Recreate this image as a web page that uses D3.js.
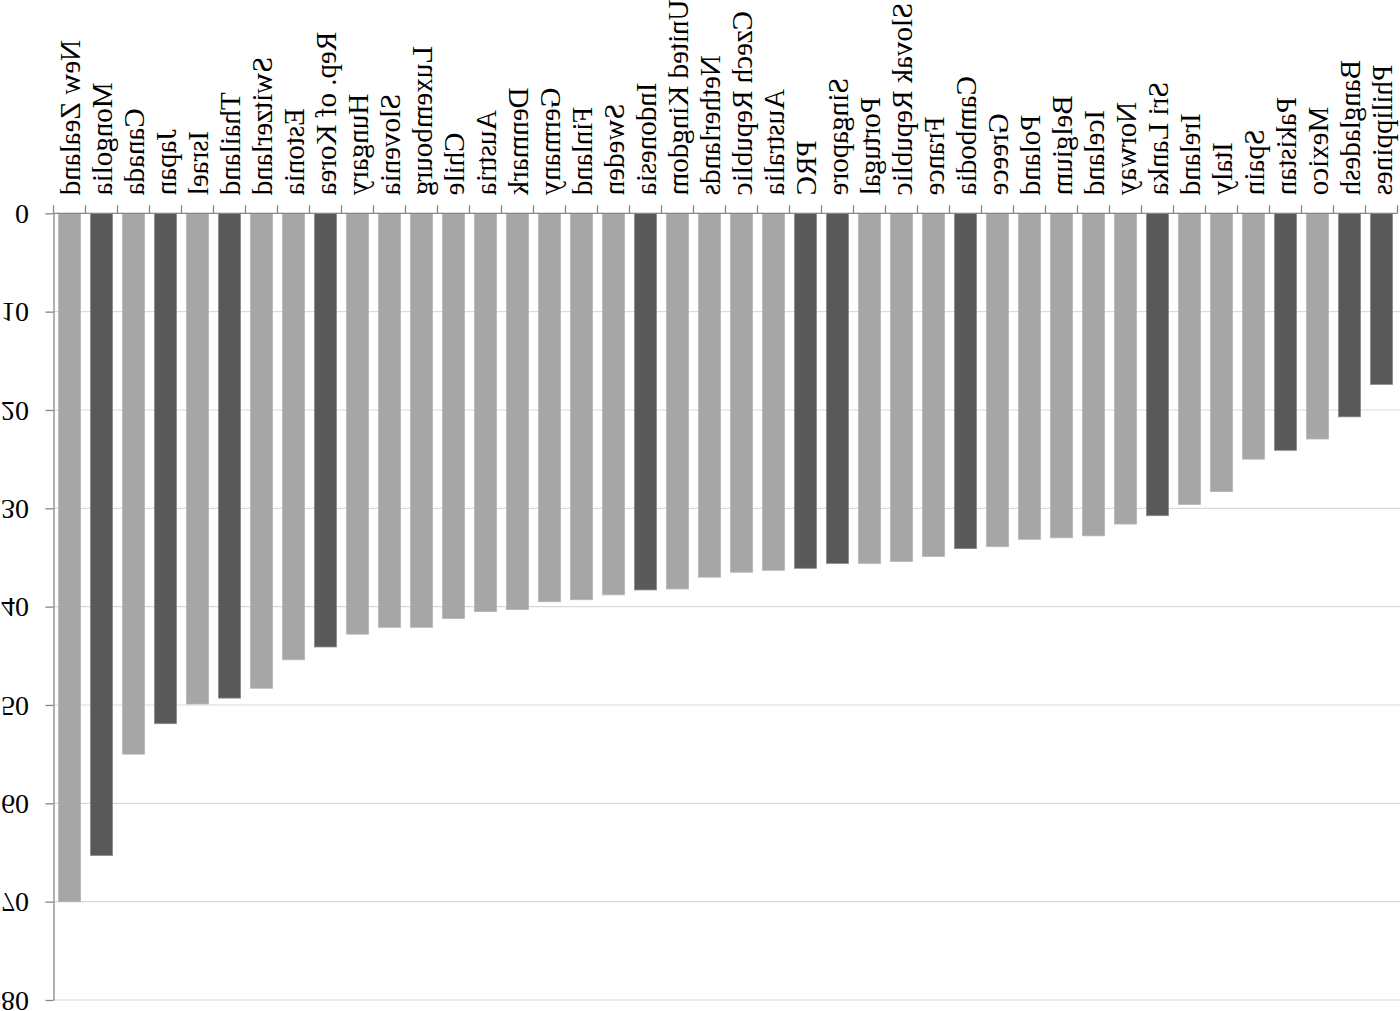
<!DOCTYPE html>
<html>
<head>
<meta charset="utf-8">
<script src="https://cdn.jsdelivr.net/npm/d3@7/dist/d3.min.js"></script>
<style>
  html, body { margin: 0; padding: 0; background: #fff; }
  svg { display: block; }
</style>
</head>
<body>
<svg id="chart" width="1400" height="1011"></svg>
<script>
// ---- data ----
const categories = ["New Zealand", "Mongolia", "Canada", "Japan", "Israel", "Thailand", "Switzerland", "Estonia", "Rep. of Korea", "Hungary", "Slovenia", "Luxembourg", "Chile", "Austria", "Denmark", "Germany", "Finland", "Sweden", "Indonesia", "United Kingdom", "Netherlands", "Czech Republic", "Australia", "PRC", "Singapore", "Portugal", "Slovak Republic", "France", "Cambodia", "Greece", "Poland", "Belgium", "Iceland", "Norway", "Sri Lanka", "Ireland", "Italy", "Spain", "Pakistan", "Mexico", "Bangladesh", "Philippines"];
const values = [70.0, 65.3, 55.0, 51.9, 49.9, 49.3, 48.3, 45.4, 44.1, 42.8, 42.1, 42.1, 41.2, 40.5, 40.3, 39.5, 39.3, 38.8, 38.3, 38.2, 37.0, 36.5, 36.3, 36.1, 35.6, 35.6, 35.4, 34.9, 34.1, 33.9, 33.15, 33.0, 32.8, 31.6, 30.75, 29.6, 28.3, 25.0, 24.1, 22.95, 20.7, 17.4];
const highlighted = ["Mongolia", "Japan", "Thailand", "Rep. of Korea", "Indonesia", "PRC", "Singapore", "Cambodia", "Sri Lanka", "Pakistan", "Bangladesh", "Philippines"];
const yTicks = [0, 10, 20, 30, 40, 50, 60, 70, 80];

// ---- layout / style ----
const FONT = "'Liberation Serif', 'Times New Roman', serif";
const plotLeft = 53.5, plotRight = 1397.5, plotTop = 213.3, plotBottom = 1000;
const colLight = "#a6a6a6", colDark = "#595959";

const svg = d3.select("#chart");

const x = d3.scaleBand().domain(categories).range([plotLeft, plotRight])
  .paddingInner(0.31).paddingOuter(0.155);
// the picture is drawn upside down: 0 at top, 80 at bottom
const y = d3.scaleLinear().domain([0, 80]).range([plotTop, plotBottom]);

// gridlines
svg.append("g").selectAll("line").data(yTicks.filter(d => d > 0)).join("line")
  .attr("x1", plotLeft).attr("x2", 1400)
  .attr("y1", d => y(d)).attr("y2", d => y(d))
  .attr("stroke", "#d9d9d9").attr("stroke-width", 1.2);

// bars
const rows = categories.map((c, i) => ({ c, v: values[i], hi: highlighted.includes(c) }));
svg.append("g").selectAll("rect").data(rows).join("rect")
  .attr("x", d => x(d.c))
  .attr("width", x.bandwidth())
  .attr("y", y(0))
  .attr("height", d => y(d.v) - y(0))
  .attr("fill", d => d.hi ? colDark : colLight)
  .attr("stroke", d => d.hi ? "#8a8a8a" : "#b5b5b5")
  .attr("stroke-width", 0.8);

// y axis
const yAxis = svg.append("g").attr("transform", `translate(${plotLeft},0)`)
  .call(d3.axisLeft(y).tickValues(yTicks).tickSize(8).tickPadding(16.5).tickSizeOuter(0));
yAxis.select(".domain").attr("stroke", "#868686").attr("stroke-width", 1.3);
yAxis.selectAll(".tick line").attr("stroke", "#868686").attr("stroke-width", 1.3);
yAxis.selectAll(".tick text")
  .attr("font-family", FONT).attr("font-size", 28).attr("fill", "#000")
  .attr("transform", "scale(1,-1)");

// x axis line and boundary ticks
const step = x.step();
const bounds = d3.range(categories.length + 1).map(i => plotLeft + i * step);
svg.append("line")
  .attr("x1", plotLeft).attr("x2", plotRight).attr("y1", y(0)).attr("y2", y(0))
  .attr("stroke", "#868686").attr("stroke-width", 1.3);
svg.append("g").selectAll("line").data(bounds).join("line")
  .attr("x1", d => d).attr("x2", d => d)
  .attr("y1", y(0) - 8).attr("y2", y(0))
  .attr("stroke", "#868686").attr("stroke-width", 1.3);

// category labels (mirrored vertically like the rest of the picture)
svg.append("g").selectAll("text").data(categories).join("text")
  .attr("transform", d => `translate(${x(d) + x.bandwidth() / 2},${y(0) - 18}) scale(1,-1) rotate(-90)`)
  .attr("text-anchor", "end")
  .attr("dy", "0.35em")
  .attr("font-family", FONT).attr("font-size", 29).attr("fill", "#000")
  .text(d => d);
</script>
</body>
</html>
